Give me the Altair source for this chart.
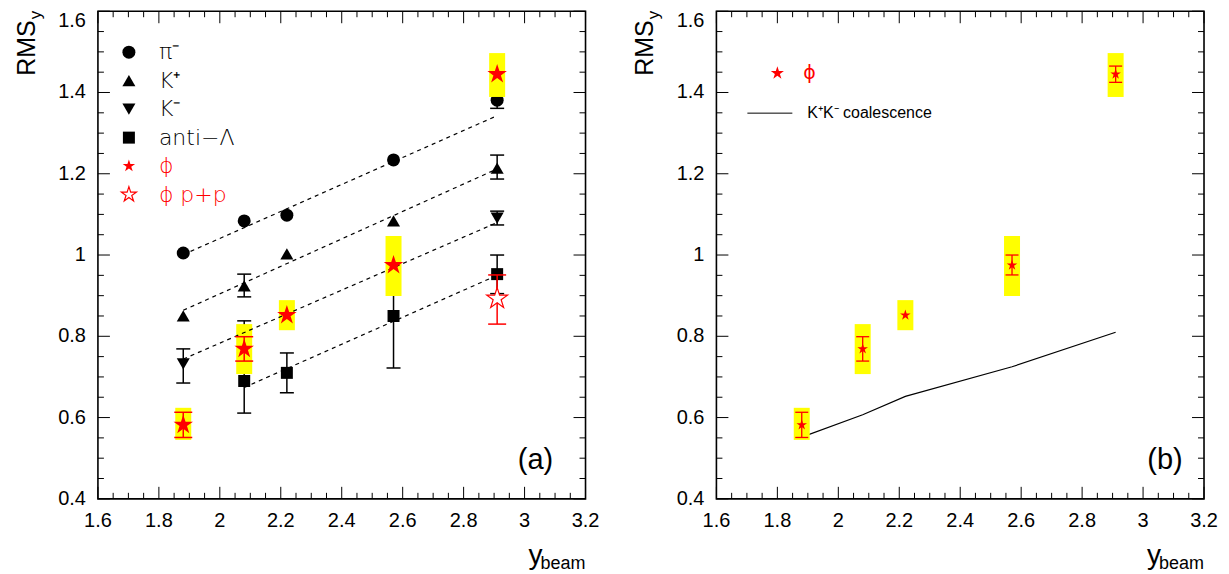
import altair as alt
import pandas as pd

# ---------------- data ----------------
x_beam = [1.88, 2.08, 2.22, 2.57, 2.91]

pim_y = [1.005, 1.084, 1.098, 1.234, 1.381]
pim_lo = [0.995, 1.074, 1.088, 1.224, 1.361]
pim_hi = [1.015, 1.094, 1.108, 1.244, 1.401]

kp_y = [0.850, 0.924, 1.003, 1.084, 1.214]
kp_lo = [0.840, 0.897, 0.993, 1.074, 1.187]
kp_hi = [0.860, 0.953, 1.013, 1.094, 1.246]

km_x = [1.88, 2.91]
km_y = [0.732, 1.091]
km_lo = [0.685, 1.074]
km_hi = [0.769, 1.108]

alam_x = [2.08, 2.22, 2.57, 2.91]
alam_y = [0.690, 0.710, 0.850, 0.953]
alam_lo = [0.611, 0.661, 0.722, 0.905]
alam_hi = [0.838, 0.759, 0.978, 1.000]

phi_y = [0.582, 0.769, 0.852, 0.975, 1.445]
phi_stat_lo = [0.551, 0.739, 0.840, 0.951, 1.425]
phi_stat_hi = [0.613, 0.799, 0.864, 1.000, 1.465]
phi_sys_lo = [0.545, 0.707, 0.815, 0.899, 1.389]
phi_sys_hi = [0.624, 0.830, 0.889, 1.047, 1.497]

phipp_x = [2.91]
phipp_y = [0.893]
phipp_lo = [0.830]
phipp_hi = [0.951]

# dashed linear trends (end points)
fit_name = ["pim", "pim", "kp", "kp", "km", "km", "alam", "alam"]
fit_x = [1.88, 2.91, 1.88, 2.91, 1.88, 2.91, 2.08, 2.91]
fit_y = [1.001, 1.343, 0.864, 1.212, 0.744, 1.080, 0.674, 0.950]

# K+K- coalescence curve (panel b)
coal_y = [0.552, 0.607, 0.652, 0.725, 0.810]

# axes
x_major = [1.6, 1.8, 2.0, 2.2, 2.4, 2.6, 2.8, 3.0, 3.2]
x_labels = ["1.6", "1.8", "2", "2.2", "2.4", "2.6", "2.8", "3", "3.2"]
x_minor = [1.65, 1.7, 1.75, 1.85, 1.9, 1.95, 2.05, 2.1, 2.15, 2.25, 2.3, 2.35,
           2.45, 2.5, 2.55, 2.65, 2.7, 2.75, 2.85, 2.9, 2.95, 3.05, 3.1, 3.15]
y_major = [0.4, 0.6, 0.8, 1.0, 1.2, 1.4, 1.6]
y_labels = ["0.4", "0.6", "0.8", "1", "1.2", "1.4", "1.6"]
y_minor = [0.45, 0.5, 0.55, 0.65, 0.7, 0.75, 0.85, 0.9, 0.95, 1.05, 1.1, 1.15,
           1.25, 1.3, 1.35, 1.45, 1.5, 1.55]

legend_a = ["π⁻", "K⁺", "K⁻", "anti−Λ", "ϕ", "ϕ p+p"]

# ---------------- styling ----------------
W = 488
H = 488
FONT = "Liberation Sans"
LFONT = "DejaVu Sans"
RED = "#ff0000"
YEL = "#ffff00"
STAR = ("M0,-1L0.2245,-0.309L0.951,-0.309L0.3633,0.118L0.588,0.809L0,0.382"
        "L-0.588,0.809L-0.3633,0.118L-0.951,-0.309L-0.2245,-0.309Z")

XS = alt.Scale(domain=[1.6, 3.2], nice=False, zero=False)
YS = alt.Scale(domain=[0.4, 1.6], nice=False, zero=False)


def X(f):
    return alt.X(f, type="quantitative", scale=XS, axis=None)


def Y(f):
    return alt.Y(f, type="quantitative", scale=YS, axis=None)


def one(text):
    return alt.Chart(pd.DataFrame({"t": [text]}))


def frame_layers():
    L = []
    xM = alt.Chart(pd.DataFrame({"v": x_major, "t": x_labels}))
    xm = alt.Chart(pd.DataFrame({"v": x_minor}))
    yM = alt.Chart(pd.DataFrame({"v": y_major, "t": y_labels}))
    ym = alt.Chart(pd.DataFrame({"v": y_minor}))
    rule = dict(color="black", strokeWidth=1)
    for src, ln in ((xM, 12), (xm, 6)):
        L.append(src.mark_rule(**rule).encode(x=X("v"), y=alt.value(H), y2=alt.value(H - ln)))
        L.append(src.mark_rule(**rule).encode(x=X("v"), y=alt.value(0), y2=alt.value(ln)))
    for src, ln in ((yM, 12), (ym, 6)):
        L.append(src.mark_rule(**rule).encode(y=Y("v"), x=alt.value(0), x2=alt.value(ln)))
        L.append(src.mark_rule(**rule).encode(y=Y("v"), x=alt.value(W), x2=alt.value(W - ln)))
    # tick labels
    L.append(xM.mark_text(font=FONT, fontSize=20, align="center", baseline="middle")
             .encode(x=X("v"), y=alt.value(H + 22), text="t:N"))
    yM_low = alt.Chart(pd.DataFrame({"v": y_major[:-1], "t": y_labels[:-1]}))
    yM_top = alt.Chart(pd.DataFrame({"v": y_major[-1:], "t": y_labels[-1:]}))
    L.append(yM_low.mark_text(font=FONT, fontSize=20, align="right", baseline="middle")
             .encode(y=Y("v"), x=alt.value(-12), text="t:N"))
    L.append(yM_top.mark_text(font=FONT, fontSize=20, align="right", baseline="top")
             .encode(y=Y("v"), x=alt.value(-12), text="t:N"))
    # axis titles
    L.append(one("RMS").mark_text(font=FONT, fontSize=25, angle=270, align="right",
                                  baseline="alphabetic")
             .encode(x=alt.value(-63), y=alt.value(9), text="t:N"))
    L.append(one("y").mark_text(font=FONT, fontSize=17, angle=270, align="left",
                                baseline="alphabetic")
             .encode(x=alt.value(-57), y=alt.value(8), text="t:N"))
    L.append(one("beam").mark_text(font=FONT, fontSize=18, align="right",
                                   baseline="alphabetic")
             .encode(x=alt.value(W), y=alt.value(H + 70), text="t:N"))
    L.append(one("y").mark_text(font=FONT, fontSize=28, align="right",
                                baseline="alphabetic")
             .encode(x=alt.value(W - 43), y=alt.value(H + 65), text="t:N"))
    return L


def errbars(df, color, cap, width=1.5):
    base = alt.Chart(df)
    return [
        base.mark_rule(color=color, strokeWidth=width).encode(x=X("x"), y=Y("lo"), y2="hi"),
        base.mark_rule(color=color, strokeWidth=width, xOffset=-cap / 2, x2Offset=cap / 2)
        .encode(x=X("x"), x2="x", y=Y("lo")),
        base.mark_rule(color=color, strokeWidth=width, xOffset=-cap / 2, x2Offset=cap / 2)
        .encode(x=X("x"), x2="x", y=Y("hi")),
    ]


def bounds_marker(x):
    # invisible rule that fixes the extent of the drawing (layout anchor)
    return one("b").mark_rule(strokeOpacity=0, strokeWidth=1).encode(
        x=alt.value(x), y=alt.value(-2), y2=alt.value(H + 70))


pim_df = pd.DataFrame({"x": x_beam, "y": pim_y, "lo": pim_lo, "hi": pim_hi})
kp_df = pd.DataFrame({"x": x_beam, "y": kp_y, "lo": kp_lo, "hi": kp_hi})
km_df = pd.DataFrame({"x": km_x, "y": km_y, "lo": km_lo, "hi": km_hi})
alam_df = pd.DataFrame({"x": alam_x, "y": alam_y, "lo": alam_lo, "hi": alam_hi})
black_df = pd.concat([pim_df, kp_df, km_df, alam_df], ignore_index=True)
black_err = black_df[(black_df["hi"] - black_df["lo"]) > 0.03]

phi_df = pd.DataFrame({"x": x_beam, "y": phi_y, "lo": phi_stat_lo, "hi": phi_stat_hi,
                       "slo": phi_sys_lo, "shi": phi_sys_hi})
phi_err = phi_df[(phi_df["hi"] - phi_df["lo"]) > 0.03]
phipp_df = pd.DataFrame({"x": phipp_x, "y": phipp_y, "lo": phipp_lo, "hi": phipp_hi})
fit_df = pd.DataFrame({"name": fit_name, "x": fit_x, "y": fit_y})
coal_df = pd.DataFrame({"x": x_beam, "y": coal_y})


def sys_boxes():
    return alt.Chart(phi_df).mark_rect(color=YEL, xOffset=-8, x2Offset=8).encode(
        x=X("x"), x2="x", y=Y("slo"), y2="shi")


# ---------------- panel (a) ----------------
A = [bounds_marker(-88.5)] + frame_layers()
A += errbars(black_err, "black", 14)
for df, shp, sz in ((pim_df, "circle", 169), (kp_df, "triangle-up", 170),
                    (km_df, "triangle-down", 170), (alam_df, "square", 144)):
    A.append(alt.Chart(df).mark_point(shape=shp, filled=True, color="black", size=sz,
                                      opacity=1, strokeWidth=0)
             .encode(x=X("x"), y=Y("y")))
A.append(sys_boxes())
A.append(alt.Chart(fit_df).mark_line(color="black", strokeDash=[4, 4], strokeWidth=1.2)
         .encode(x=X("x"), y=Y("y"), detail="name:N"))
A += errbars(phi_err.iloc[:2], RED, 18)
A += errbars(phipp_df, RED, 18)
A.append(alt.Chart(phi_df).mark_point(shape=STAR, filled=True, color=RED, size=420,
                                      opacity=1, strokeWidth=0)
         .encode(x=X("x"), y=Y("y")))
A.append(alt.Chart(phipp_df).mark_point(shape=STAR, filled=True, fill="white", stroke=RED,
                                        strokeWidth=1.2, size=480, opacity=1)
         .encode(x=X("x"), y=Y("y")))
# legend (a)
leg_shapes = ["circle", "triangle-up", "triangle-down", "square", STAR, STAR]
leg_sizes = [169, 170, 170, 144, 170, 250]
for i, lab in enumerate(legend_a):
    yy = 41 + 28.5 * i
    col = RED if i >= 4 else "black"
    if i == 5:
        pt = one(lab).mark_point(shape=STAR, filled=True, fill="white", stroke=RED,
                                 strokeWidth=1.2, size=leg_sizes[i], opacity=1)
    else:
        pt = one(lab).mark_point(shape=leg_shapes[i], filled=True, color=col,
                                 size=leg_sizes[i], opacity=1, strokeWidth=0)
    A.append(pt.encode(x=alt.value(31), y=alt.value(yy)))
    A.append(one(lab).mark_text(font=LFONT, fontWeight=200, fontSize=22, align="left",
                                baseline="middle", color=col)
             .encode(x=alt.value(61), y=alt.value(yy), text="t:N"))
A.append(one("(a)").mark_text(font=FONT, fontSize=29, align="center", baseline="middle")
         .encode(x=alt.value(438), y=alt.value(449), text="t:N"))
panel_a = alt.layer(*A).properties(width=W, height=H)

# ---------------- panel (b) ----------------
B = [bounds_marker(W + 16)] + frame_layers()
B.append(alt.Chart(coal_df).mark_line(color="black", strokeWidth=1.2)
         .encode(x=X("x"), y=Y("y")))
B.append(sys_boxes())
B += errbars(phi_err, RED, 13, 1.3)
B.append(alt.Chart(phi_df).mark_point(shape=STAR, filled=True, color=RED, size=125,
                                      opacity=1, strokeWidth=0)
         .encode(x=X("x"), y=Y("y")))
B.append(one("ϕ").mark_point(shape=STAR, filled=True, color=RED, size=190, opacity=1,
                             strokeWidth=0).encode(x=alt.value(61), y=alt.value(62)))
B.append(one("ϕ").mark_text(font=LFONT, fontSize=19, align="left", baseline="middle",
                            color=RED).encode(x=alt.value(87), y=alt.value(62), text="t:N"))
B.append(one("line").mark_rule(color="black", strokeWidth=1)
         .encode(x=alt.value(31), x2=alt.value(76), y=alt.value(102)))
B.append(one("K⁺K⁻ coalescence").mark_text(font=FONT, fontSize=16, align="left",
                                           baseline="middle")
         .encode(x=alt.value(91), y=alt.value(102), text="t:N"))
B.append(one("(b)").mark_text(font=FONT, fontSize=29, align="center", baseline="middle")
         .encode(x=alt.value(449), y=alt.value(449), text="t:N"))
panel_b = alt.layer(*B).properties(width=W, height=H)

chart = (
    alt.hconcat(panel_a, panel_b, spacing=131, bounds="flush")
    .properties(padding=0, background="white")
    .configure_view(stroke="black", strokeWidth=1.6)
)

chart.save("out.html", embed_options={"renderer": "svg", "actions": False})
